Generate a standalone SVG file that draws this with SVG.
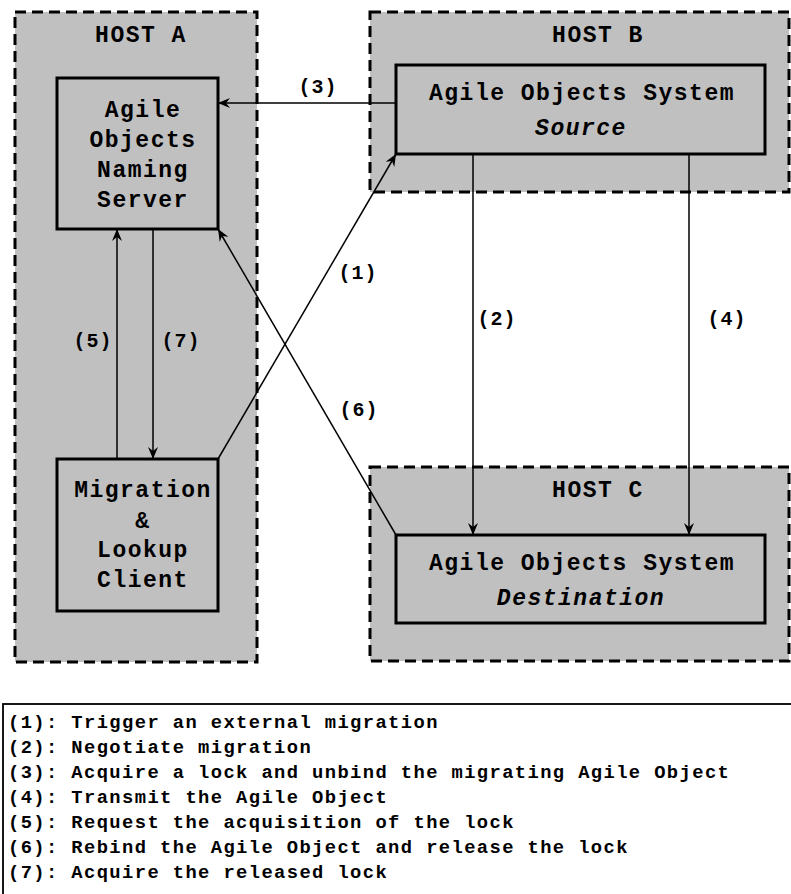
<svg xmlns="http://www.w3.org/2000/svg" width="791" height="894" viewBox="0 0 791 894">
  <style>
    .host { fill: #c0c0c0; stroke: #000; stroke-width: 3; stroke-dasharray: 11 6; }
    .box { fill: #c0c0c0; stroke: #000; stroke-width: 3; }
    .t { font-family: "Liberation Mono", "Courier New", monospace; font-weight: bold; font-size: 23px; letter-spacing: 1.5px; fill: #000; text-anchor: middle; }
    .it { font-style: italic; }
    .lbl { font-family: "Liberation Mono", "Courier New", monospace; font-weight: bold; font-size: 20px; letter-spacing: 1px; fill: #000; text-anchor: middle; }
    .conn { stroke: #000; stroke-width: 1.5; fill: none; marker-end: url(#arrow); }
    .legend { font-family: "Liberation Mono", "Courier New", monospace; font-weight: bold; font-size: 18.8px; letter-spacing: 1.4px; fill: #000; }
  </style>
  <defs>
    <marker id="arrow" viewBox="-13 -6 14 12" refX="0" refY="0" markerWidth="14" markerHeight="12" markerUnits="userSpaceOnUse" orient="auto">
      <path d="M0,0 L-12,-5 L-8,0 L-12,5 Z" fill="#000"/>
    </marker>
  </defs>

  <rect width="791" height="894" fill="#fff"/>

  <!-- hosts -->
  <g id="host-a">
    <rect class="host" x="15" y="12" width="242" height="650"/>
    <text class="t" x="141" y="42">HOST A</text>
  </g>
  <g id="host-b">
    <rect class="host" x="370" y="12" width="419" height="180"/>
    <text class="t" x="598" y="42">HOST B</text>
  </g>
  <g id="host-c">
    <rect class="host" x="370" y="467" width="419" height="194"/>
    <text class="t" x="598" y="497">HOST C</text>
  </g>

  <!-- components -->
  <g id="naming-server">
    <rect class="box" x="57" y="78" width="161" height="151"/>
    <text class="t" x="143" y="117">Agile</text>
    <text class="t" x="143" y="147">Objects</text>
    <text class="t" x="143" y="177">Naming</text>
    <text class="t" x="143" y="207">Server</text>
  </g>
  <g id="client">
    <rect class="box" x="57" y="459" width="161" height="152"/>
    <text class="t" x="143" y="497">Migration</text>
    <text class="t" x="143" y="528">&amp;</text>
    <text class="t" x="143" y="557">Lookup</text>
    <text class="t" x="143" y="587">Client</text>
  </g>
  <g id="source">
    <rect class="box" x="396" y="65" width="369" height="89"/>
    <text class="t" x="582" y="100">Agile Objects System</text>
    <text class="t it" x="581" y="135">Source</text>
  </g>
  <g id="destination">
    <rect class="box" x="396" y="535" width="369" height="88"/>
    <text class="t" x="582" y="570">Agile Objects System</text>
    <text class="t it" x="581" y="605">Destination</text>
  </g>

  <!-- connectors -->
  <g id="connectors">
    <line class="conn" x1="218" y1="459" x2="396" y2="154"/>
    <line class="conn" x1="473" y1="154" x2="473" y2="535"/>
    <line class="conn" x1="396" y1="103" x2="218" y2="103"/>
    <line class="conn" x1="689" y1="154" x2="689" y2="535"/>
    <line class="conn" x1="117" y1="459" x2="117" y2="229"/>
    <line class="conn" x1="396" y1="535" x2="218" y2="229"/>
    <line class="conn" x1="153" y1="229" x2="153" y2="459"/>
    <text class="lbl" x="358" y="279">(1)</text>
    <text class="lbl" x="497" y="325">(2)</text>
    <text class="lbl" x="318" y="93">(3)</text>
    <text class="lbl" x="727" y="325">(4)</text>
    <text class="lbl" x="93" y="347">(5)</text>
    <text class="lbl" x="359" y="416">(6)</text>
    <text class="lbl" x="181" y="347">(7)</text>
  </g>

  <!-- legend -->
  <g id="legend">
    <rect x="3" y="704" width="800" height="200" fill="#fff" stroke="#000" stroke-width="1.8"/>
    <text class="legend" x="8" y="728">(1): Trigger an external migration</text>
    <text class="legend" x="8" y="753">(2): Negotiate migration</text>
    <text class="legend" x="8" y="778">(3): Acquire a lock and unbind the migrating Agile Object</text>
    <text class="legend" x="8" y="803">(4): Transmit the Agile Object</text>
    <text class="legend" x="8" y="828">(5): Request the acquisition of the lock</text>
    <text class="legend" x="8" y="853">(6): Rebind the Agile Object and release the lock</text>
    <text class="legend" x="8" y="878">(7): Acquire the released lock</text>
  </g>
</svg>
